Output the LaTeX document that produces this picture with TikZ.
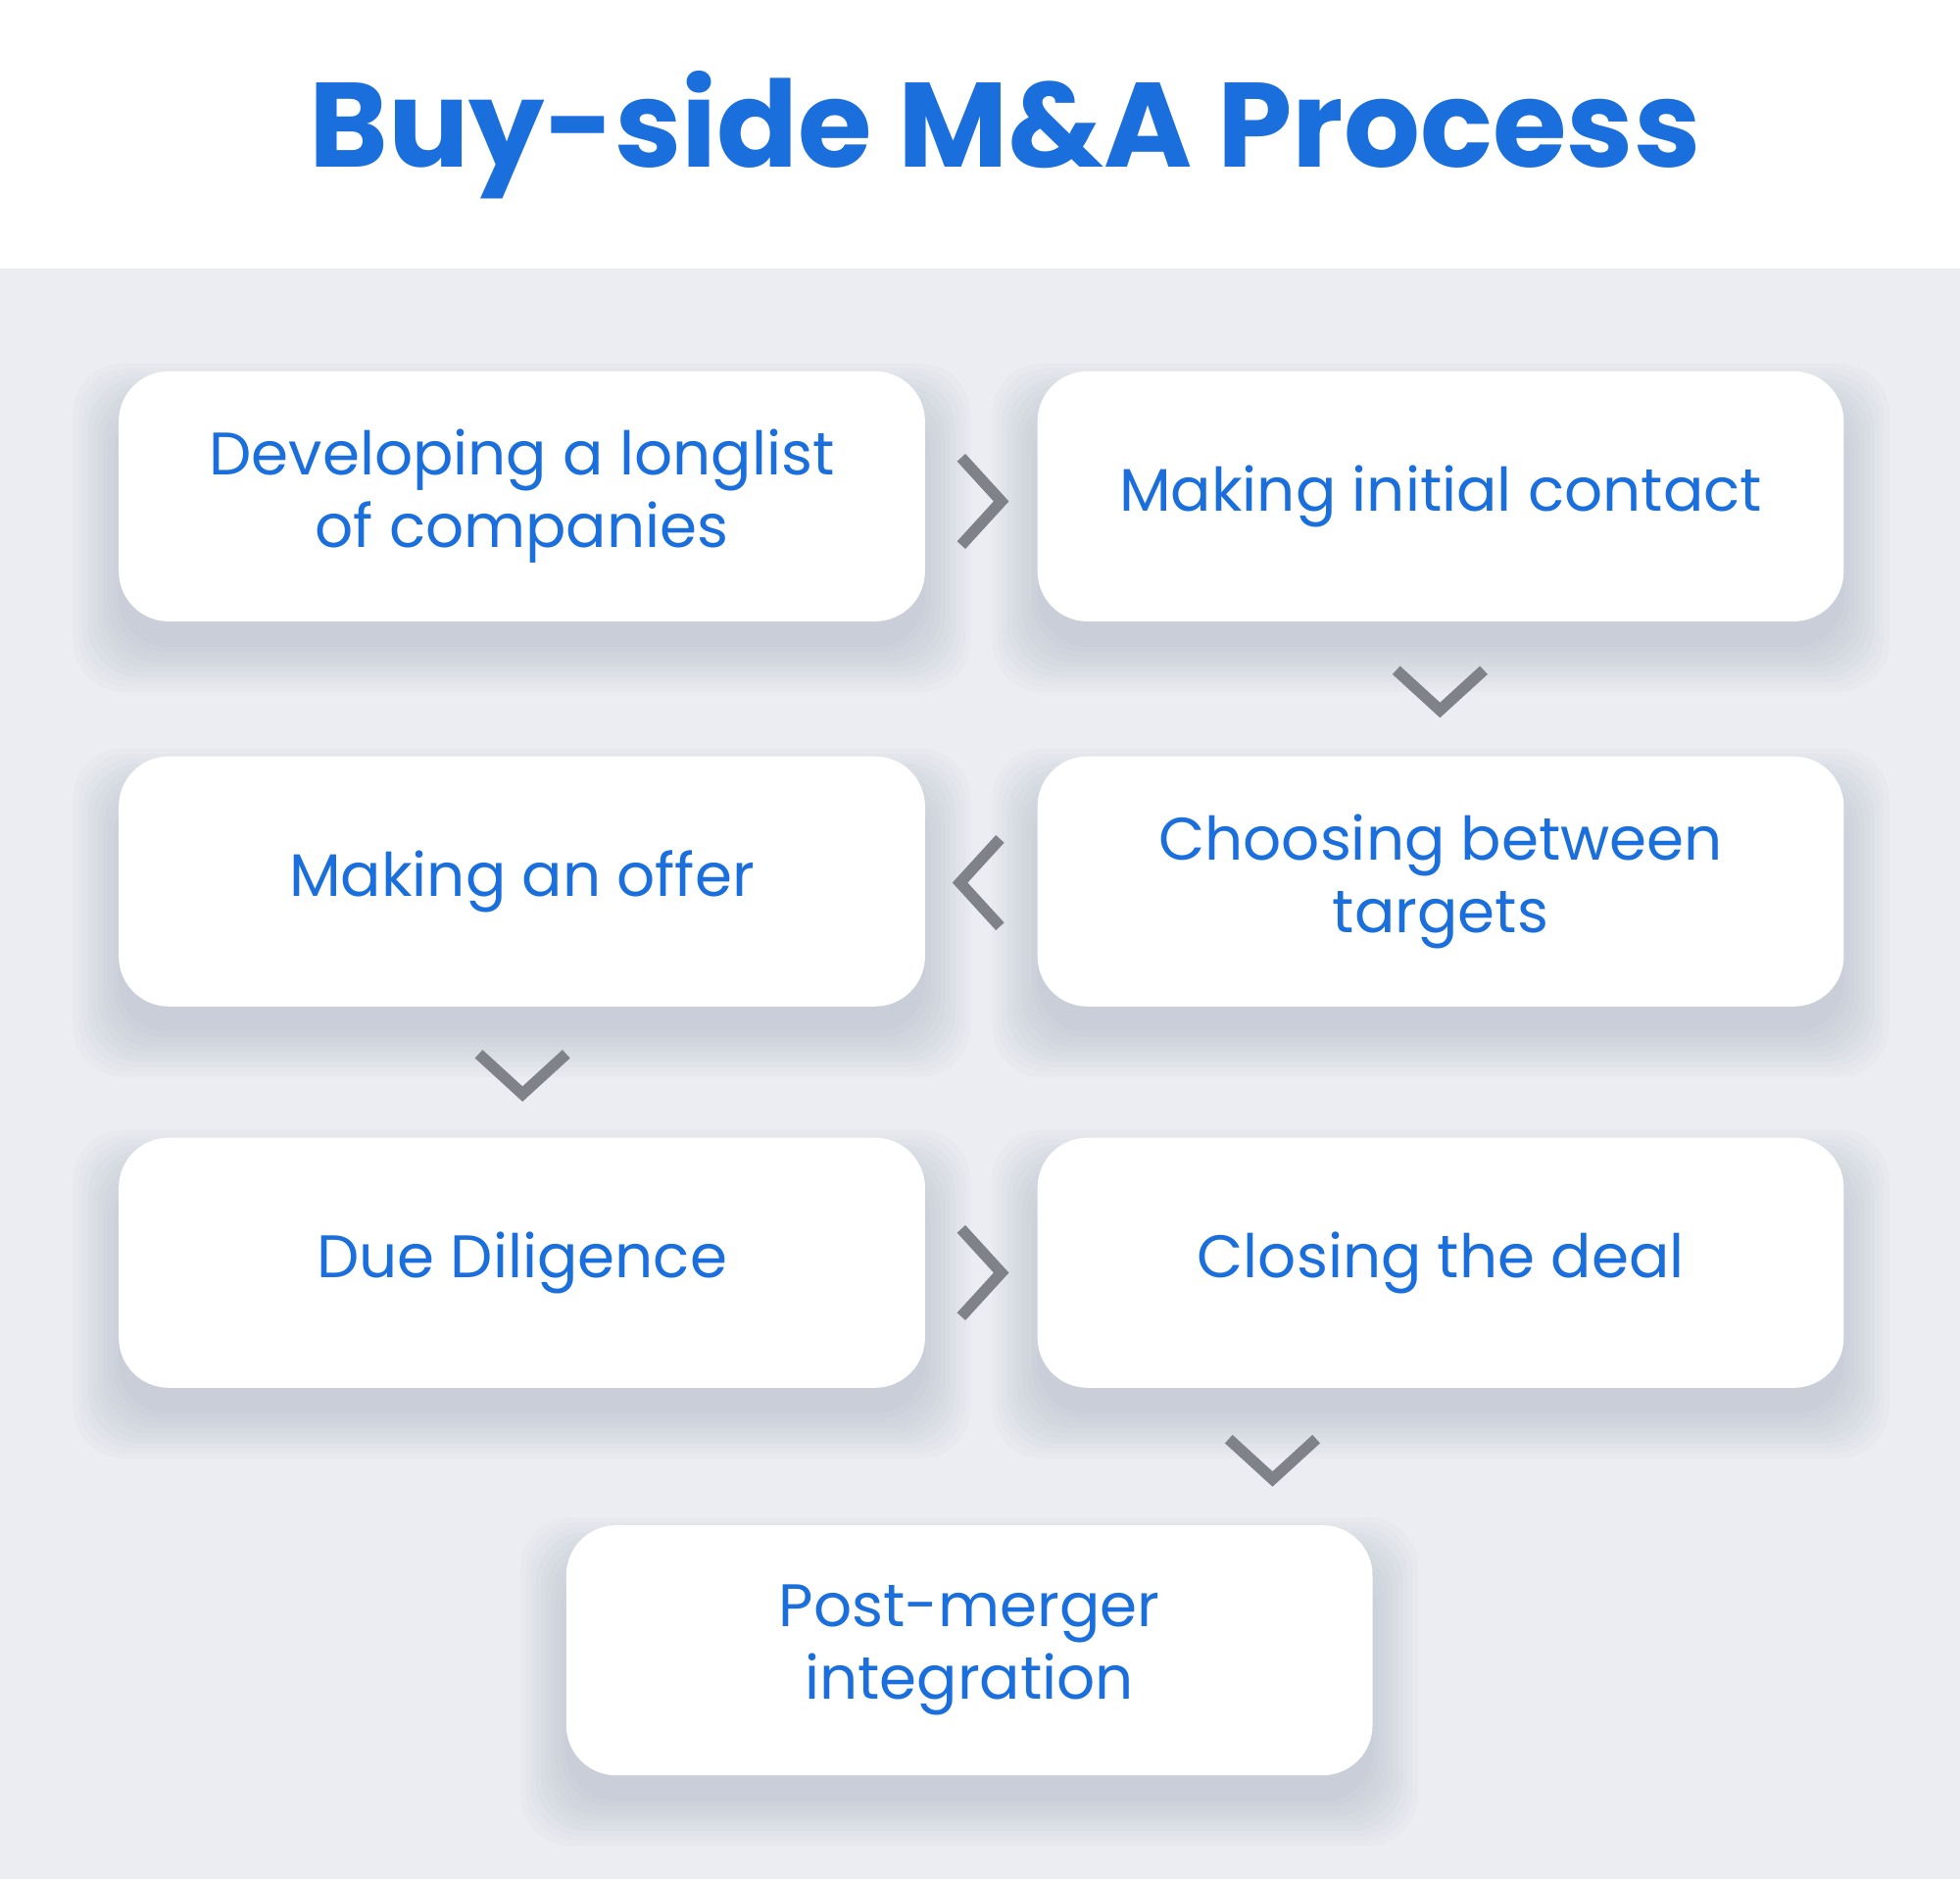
\documentclass[tikz,border=0pt]{standalone}
\usepackage{fontspec}
\setmainfont{Poppins}
\usetikzlibrary{backgrounds}
\definecolor{tblue}{HTML}{1A6FDC}
\definecolor{bg}{HTML}{ECEDF2}
\definecolor{chev}{HTML}{7F8288}
\definecolor{shd}{HTML}{5A6A90}
\tikzset{
 card/.style={draw=none,fill=white,rounded corners=20pt,minimum width=322.5pt,minimum height=100pt,
   align=center,text=tblue,font=\fontsize{24}{29}\selectfont},
 chv/.style={draw=chev,line width=4.5pt,line cap=butt,line join=miter}
}
\newcommand{\myshad}[1]{%
 \foreach \k in {0,4,...,36}{%
  \fill[shd,opacity=0.022,rounded corners=20pt]
   ([shift={(-36+\k,-6+\k)}]#1.north west) rectangle ([shift={(36-\k,56-\k)}]#1.south east);}}
\begin{document}
\begin{tikzpicture}[x=0.5pt,y=-0.5pt]
\useasboundingbox (0,0) rectangle (1568,1503);
\node[text=tblue,font=\bfseries\fontsize{48}{56}\selectfont] (title) at (804,108) {Buy-side M\&A Process};
\node[card] (a) at (417.5,397) {Developing a longlist\\of companies};
\node[card] (b) at (1152.5,397) {Making initial contact};
\node[card] (c) at (1152.5,705) {Choosing between\\targets};
\node[card] (d) at (417.5,705) {Making an offer};
\node[card] (e) at (417.5,1010) {Due Diligence};
\node[card] (f) at (1152.5,1010) {Closing the deal};
\node[card] (g) at (775.5,1320) {Post-merger\\integration};
\begin{scope}[on background layer]
\fill[white] (0,0) rectangle (1568,215);
\fill[bg] (0,215) rectangle (1568,1503);
\myshad{a}\myshad{b}\myshad{c}\myshad{d}\myshad{e}\myshad{f}\myshad{g}
\end{scope}
\coordinate (c1) at (785,401);
\coordinate (c2) at (1152,552);
\coordinate (c3) at (784,706);
\coordinate (c4) at (418,859);
\coordinate (c5) at (785,1018);
\coordinate (c6) at (1018,1167);
\draw[chv] ([shift={(-16,-35)}]c1) -- ([shift={(16,0)}]c1) -- ([shift={(-16,35)}]c1);
\draw[chv] ([shift={(16,-35)}]c3) -- ([shift={(-16,0)}]c3) -- ([shift={(16,35)}]c3);
\draw[chv] ([shift={(-16,-35)}]c5) -- ([shift={(16,0)}]c5) -- ([shift={(-16,35)}]c5);
\draw[chv] ([shift={(-35,-16)}]c2) -- ([shift={(0,16)}]c2) -- ([shift={(35,-16)}]c2);
\draw[chv] ([shift={(-35,-16)}]c4) -- ([shift={(0,16)}]c4) -- ([shift={(35,-16)}]c4);
\draw[chv] ([shift={(-35,-16)}]c6) -- ([shift={(0,16)}]c6) -- ([shift={(35,-16)}]c6);
\end{tikzpicture}
\end{document}
